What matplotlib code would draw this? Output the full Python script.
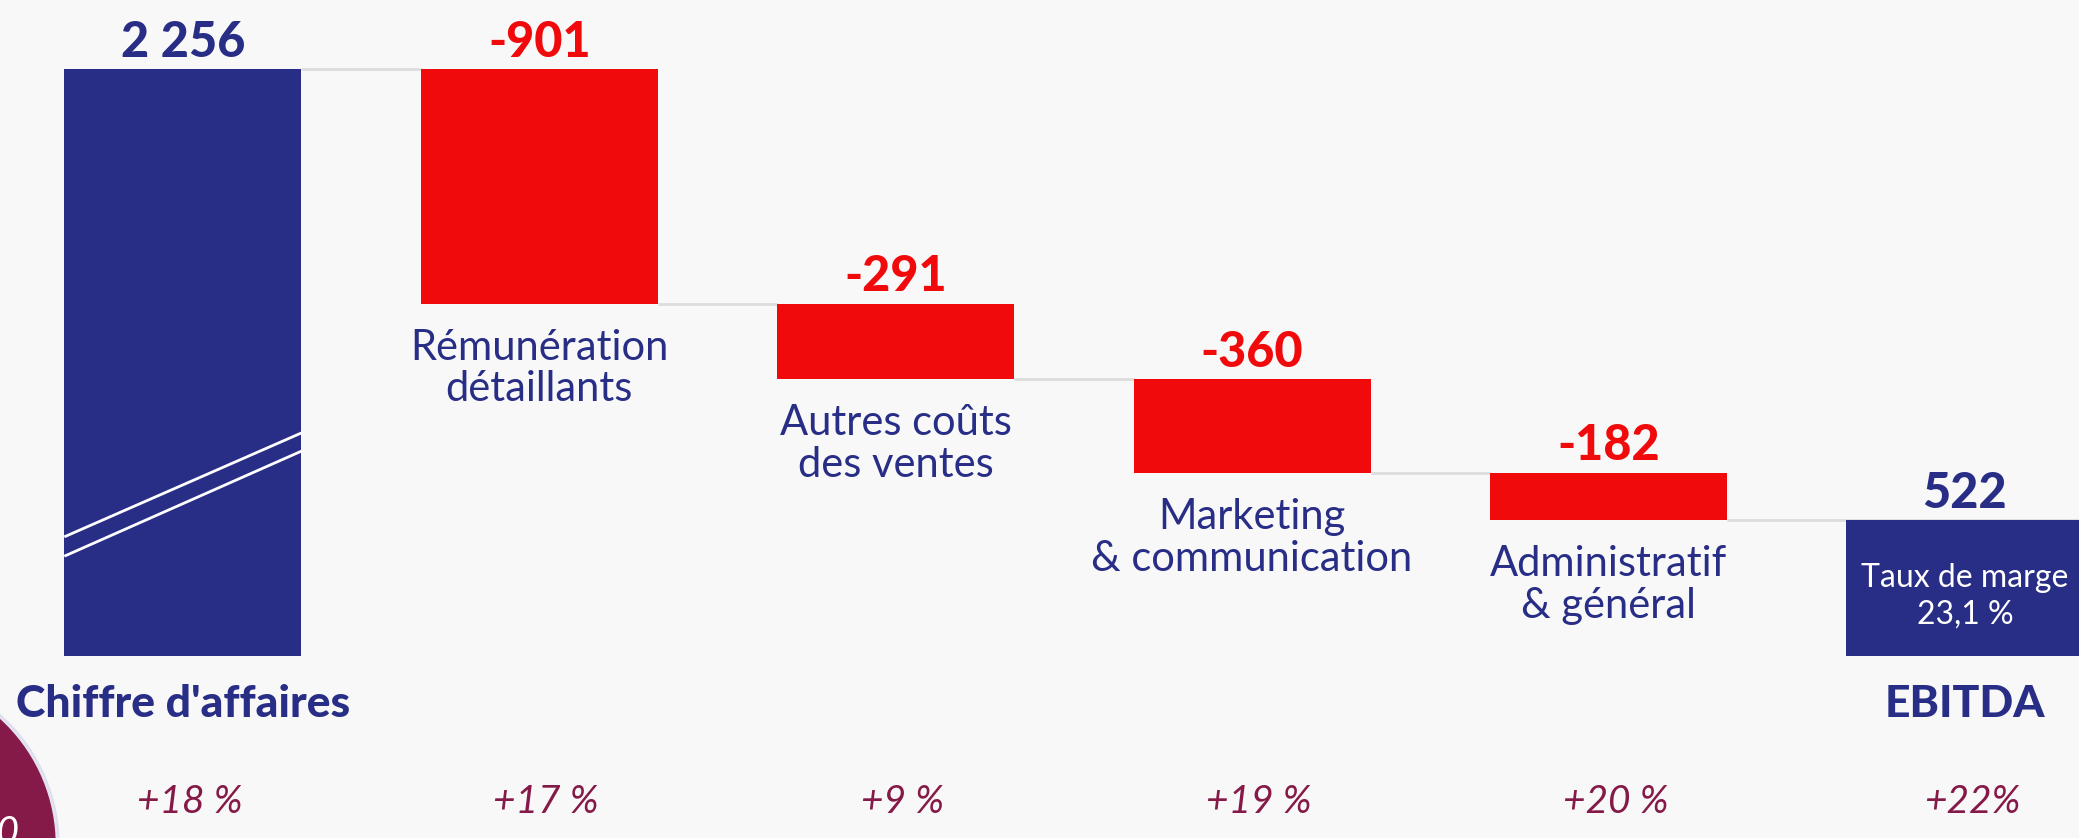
import matplotlib.pyplot as plt
from matplotlib.patches import Circle

# Data
categories = ["Chiffre d'affaires", "Rémunération\ndétaillants", "Autres coûts\ndes ventes",
              "Marketing\n& communication", "Administratif\n& général", "EBITDA"]
values = [2256, -901, -291, -360, -182, 522]
value_labels = ["2 256", "-901", "-291", "-360", "-182", "522"]
growth = ["+18 %", "+17 %", "+9 %", "+19 %", "+20 %", "+22%"]
margin_note = "Taux de marge\n23,1 %"
circle_text = "2020"

navy = "#282d86"
red = "#f00a0c"
burgundy = "#851a48"
bg = "#f8f8f8"

plt.rcParams['font.family'] = ['Lato', 'DejaVu Sans']

fig = plt.figure(figsize=(20.79, 8.38), dpi=100, facecolor=bg)
ax = fig.add_axes([0, 0, 1, 1])
ax.set_facecolor(bg)
ax.set_xlim(-0.513, 5.32)
ax.set_ylim(-700, 2522)
ax.axis("off")

width = 0.665
n = len(values)
x = list(range(n))

# Waterfall bottoms / heights
bottoms, heights, colors = [], [], []
running = 0
for i, v in enumerate(values):
    if i == 0 or i == n - 1:
        bottoms.append(0)
        heights.append(v)
        colors.append(navy)
        running = v
    else:
        bottoms.append(running + v)
        heights.append(-v)
        colors.append(red)
        running += v

ax.bar(x, heights, bottom=bottoms, width=width, color=colors, zorder=3)

# Connector lines
level = values[0]
for i in range(n - 1):
    if i > 0:
        level += values[i]
    ax.plot([x[i] + width / 2, x[i + 1] - width / 2], [level, level],
            color="#dddddd", lw=2, zorder=1, solid_capstyle="butt")
ax.plot([x[-1] - width / 2, x[-1] + width / 2], [level, level], color="#dddddd", lw=2, zorder=1)

# Break marks on the first bar
h0 = heights[0]
for y_left, y_right in [(0.203, 0.380), (0.170, 0.349)]:
    ax.plot([x[0] - width / 2, x[0] + width / 2], [y_left * h0, y_right * h0],
            color="white", lw=2, zorder=4, solid_capstyle="butt")

# Value labels
for i in range(n):
    top = bottoms[i] + heights[i]
    ax.annotate(value_labels[i], (x[i], top), xytext=(0, 9), textcoords="offset points",
                ha="center", va="baseline", fontsize=35, fontweight="black",
                color=navy if colors[i] == navy else red)

# Category labels
for i in range(1, n - 1):
    ax.annotate(categories[i], (x[i], bottoms[i]), xytext=(0, -18), textcoords="offset points",
                ha="center", va="top", fontsize=30, color=navy, multialignment="center",
                linespacing=1.12)

for i in [0, n - 1]:
    ax.annotate(categories[i], (x[i], 0), xytext=(0, -44), textcoords="offset points",
                ha="center", va="baseline", fontsize=32, fontweight="black", color=navy)

# Margin note inside EBITDA bar
ax.annotate(margin_note, (x[-1], heights[-1] / 2), xytext=(0, -6), textcoords="offset points",
            ha="center", va="center", fontsize=23, color="white", multialignment="center",
            linespacing=1.25, zorder=5)

# Growth row
for i in range(n):
    ax.annotate(growth[i], (x[i], 0), xytext=(5, -113), textcoords="offset points",
                ha="center", va="baseline", fontsize=28, fontstyle="italic", color=burgundy)

# Decorative circle bottom-left
fig.patches.append(Circle((-115, 838 - 845), 174, transform=None, color="#d6d5ec", alpha=0.6,
                          zorder=0))
fig.patches.append(Circle((-115, 838 - 845), 170, transform=None, color=burgundy, zorder=1))
fig.text(20 / 2079, 1 - 815 / 838, circle_text, ha="right", va="top", fontsize=28,
         fontstyle="italic", color="white")

fig.savefig("out.png", dpi=100, facecolor=bg)
